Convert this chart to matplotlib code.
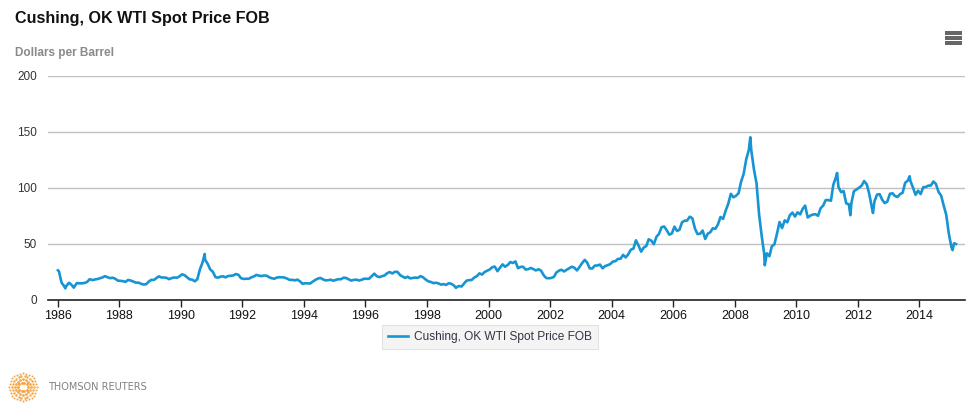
import matplotlib
matplotlib.use("Agg")
import matplotlib.pyplot as plt
import matplotlib.dates as mdates
import numpy as np
import pandas as pd
from matplotlib.patches import Rectangle

plt.rcParams['font.family'] = ['Liberation Sans', 'DejaVu Sans']

# ---------------- data (monthly values + visible daily extremes) ----------------
monthly_values = {
    1986: [25.5, 15.5, 12.6, 12.8, 15.4, 13.4, 11.6, 15.1, 14.9, 14.9, 15.2, 16.1],
    1987: [18.6, 17.8, 18.3, 18.7, 19.4, 20.1, 21.3, 20.3, 19.5, 19.9, 18.9, 17.3],
    1988: [17.1, 16.8, 16.2, 17.9, 17.4, 16.5, 15.5, 15.5, 14.5, 13.8, 14.1, 16.4],
    1989: [18.0, 17.9, 19.5, 21.1, 20.1, 20.1, 19.8, 18.6, 19.6, 20.1, 19.9, 21.1],
    1990: [22.9, 22.1, 20.4, 18.4, 18.2, 16.7, 18.5, 27.3, 33.5, 36.0, 32.3, 27.3],
    1991: [25.2, 20.5, 19.9, 20.8, 21.2, 20.2, 21.4, 21.7, 21.9, 23.2, 22.5, 19.5],
    1992: [18.8, 19.0, 18.9, 20.2, 21.0, 22.4, 21.8, 21.3, 21.9, 21.7, 20.3, 19.4],
    1993: [19.0, 20.1, 20.3, 20.3, 20.0, 19.1, 17.9, 18.0, 17.5, 18.2, 16.6, 14.5],
    1994: [15.0, 14.8, 14.7, 16.4, 17.9, 19.1, 19.7, 18.4, 17.5, 17.7, 18.1, 17.2],
    1995: [18.0, 18.6, 18.5, 19.9, 19.7, 18.5, 17.3, 18.0, 18.2, 17.4, 18.0, 19.0],
    1996: [18.9, 19.1, 21.3, 23.5, 21.2, 20.4, 21.3, 21.9, 24.0, 24.9, 23.7, 25.2],
    1997: [25.1, 22.2, 21.0, 19.7, 20.8, 19.3, 19.7, 20.0, 19.8, 21.3, 20.2, 18.3],
    1998: [16.7, 16.1, 15.1, 15.4, 14.9, 13.7, 14.2, 13.5, 15.0, 14.5, 13.0, 11.4],
    1999: [12.5, 12.0, 14.7, 17.3, 17.7, 17.9, 20.1, 21.3, 23.8, 22.7, 25.0, 26.1],
    2000: [27.3, 29.4, 29.8, 25.7, 28.8, 31.8, 29.7, 31.3, 33.9, 33.1, 34.4, 28.4],
    2001: [29.6, 29.6, 27.2, 27.5, 28.6, 27.6, 26.4, 27.4, 26.2, 22.2, 19.6, 19.4],
    2002: [19.7, 20.7, 24.5, 26.2, 27.0, 25.5, 27.0, 28.4, 29.7, 28.8, 26.4, 29.5],
    2003: [33.0, 35.8, 33.5, 28.2, 28.1, 30.7, 30.8, 31.6, 28.3, 30.3, 31.1, 32.1],
    2004: [34.3, 34.7, 36.7, 36.8, 40.3, 38.0, 40.8, 44.9, 45.9, 53.3, 48.5, 43.2],
    2005: [46.8, 48.2, 54.2, 53.0, 49.8, 56.4, 59.0, 65.0, 65.6, 62.3, 58.3, 59.4],
    2006: [65.5, 61.6, 62.7, 69.4, 70.8, 71.0, 74.4, 73.0, 63.8, 58.9, 59.1, 62.0],
    2007: [54.5, 59.3, 60.4, 64.0, 63.5, 67.5, 74.1, 72.4, 79.9, 85.8, 94.8, 91.7],
    2008: [93.0, 95.4, 105.5, 112.6, 125.4, 133.9, 133.4, 116.7, 104.1, 76.6, 57.3, 41.1],
    2009: [41.7, 39.1, 47.9, 49.7, 59.0, 69.6, 64.2, 71.1, 69.4, 75.7, 78.0, 74.5],
    2010: [78.3, 76.4, 81.2, 84.3, 73.7, 75.3, 76.3, 76.6, 75.2, 81.9, 84.3, 89.2],
    2011: [89.2, 88.6, 102.9, 109.5, 100.9, 96.3, 97.3, 86.3, 85.5, 86.3, 97.2, 98.6],
    2012: [100.3, 102.2, 106.2, 103.3, 94.7, 82.3, 87.9, 94.1, 94.5, 89.5, 86.5, 87.9],
    2013: [94.8, 95.3, 92.9, 92.0, 94.5, 95.8, 104.7, 106.6, 106.3, 100.5, 93.9, 97.6],
    2014: [94.6, 100.8, 100.8, 102.1, 102.2, 105.8, 103.6, 96.5, 93.2, 84.4, 75.8, 59.3],
    2015: [47.2, 50.6],
}
extreme_dates = ['1986-01-03', '1986-04-01', '1986-07-10', '1990-10-11', '1998-12-10',
                 '2008-07-03', '2008-12-22', '2011-04-29', '2011-10-04', '2012-06-28',
                 '2013-09-06', '2015-01-28', '2015-03-09']
extreme_values = [26.5, 10.4, 11.0, 41.1, 10.8,
                  145.3, 31.0, 113.4, 75.7, 77.7,
                  110.5, 44.5, 50.0]

# assemble series
dates, values = [], []
for yr, vals in monthly_values.items():
    for m, v in enumerate(vals, start=1):
        dates.append(pd.Timestamp(year=yr, month=m, day=15))
        values.append(v)
dates += list(pd.to_datetime(extreme_dates))
values += extreme_values
s = pd.Series(values, index=pd.DatetimeIndex(dates)).sort_index()
s = s[s.index >= pd.Timestamp('1986-01-03')]

tick_years = list(range(1986, 2015, 2))

# ---------------- figure ----------------
W, H = 974, 405
fig = plt.figure(figsize=(W / 100, H / 100), dpi=100)
fig.patch.set_facecolor('white')

x0, x1, ytop, ybot = 48, 965, 76, 300
ax = fig.add_axes([x0 / W, 1 - ybot / H, (x1 - x0) / W, (ybot - ytop) / H])
ax.set_facecolor('white')

line_color = '#1795d3'
ax.plot(s.index, s.values, color=line_color, lw=1.9, solid_joinstyle='round',
        label='Cushing, OK WTI Spot Price FOB')

ax.set_ylim(0, 200)
ax.set_xlim(pd.Timestamp('1985-09-07'), pd.Timestamp('2015-06-25'))
ax.set_yticks([0, 50, 100, 150, 200])
ax.yaxis.grid(True, color='#c0c0c0', lw=1)
ax.set_axisbelow(True)
ax.set_xticks([pd.Timestamp(year=y, month=1, day=1) for y in tick_years])
ax.set_xticklabels([str(y) for y in tick_years])

for sp in ['top', 'right', 'left']:
    ax.spines[sp].set_visible(False)
ax.spines['bottom'].set_color('#222222')
ax.spines['bottom'].set_linewidth(1.2)
ax.tick_params(axis='y', length=0, pad=8, labelsize=8.5, labelcolor='#333333')
ax.tick_params(axis='x', length=5, width=1, color='#222222', pad=2,
               labelsize=9, labelcolor='#111111')

# title and subtitle
fig.text(15 / W, 1 - 18 / H, 'Cushing, OK WTI Spot Price FOB', fontsize=11.6,
         fontweight='bold', color='#111111', ha='left', va='center')
fig.text(15 / W, 1 - 53 / H, 'Dollars per Barrel', fontsize=8.5,
         fontweight='bold', color='#8a8a8a', ha='left', va='center')

# legend
leg = ax.legend(loc='center', bbox_to_anchor=(490 / W, 1 - 337 / H),
                bbox_transform=fig.transFigure, frameon=True, fancybox=False,
                fontsize=8.6, handlelength=1.6, handletextpad=0.5,
                borderpad=0.5, borderaxespad=0)
leg.get_frame().set_facecolor('#f2f2f2')
leg.get_frame().set_edgecolor('#dddddd')
leg.get_frame().set_linewidth(0.8)
for t in leg.get_texts():
    t.set_color('#333344')

# menu icon (three bars)
for yb in [33, 38, 43]:
    fig.patches.append(Rectangle((945 / W, 1 - (yb + 1.5) / H), 17 / W, 3 / H,
                                 transform=fig.transFigure, facecolor='#666666',
                                 edgecolor='none'))

# Thomson Reuters logo
lax = fig.add_axes([8 / W, 1 - 402 / H, 30 / W, 30 / H])
lax.set_xlim(-1.1, 1.1)
lax.set_ylim(-1.1, 1.1)
lax.axis('off')
for r, n, sz in [(1.0, 28, 2.2), (0.78, 22, 3.2), (0.56, 16, 4.0), (0.34, 10, 4.5)]:
    th = np.linspace(0, 2 * np.pi, n, endpoint=False)
    lax.scatter(r * np.cos(th), r * np.sin(th), s=sz, color='#f29a2e', lw=0, alpha=0.85)
fig.text(48 / W, 1 - 387 / H, 'THOMSON REUTERS', fontsize=7, color='#808080',
         ha='left', va='center', family=['DejaVu Sans'])

fig.savefig('out.png', dpi=100, facecolor='white')
